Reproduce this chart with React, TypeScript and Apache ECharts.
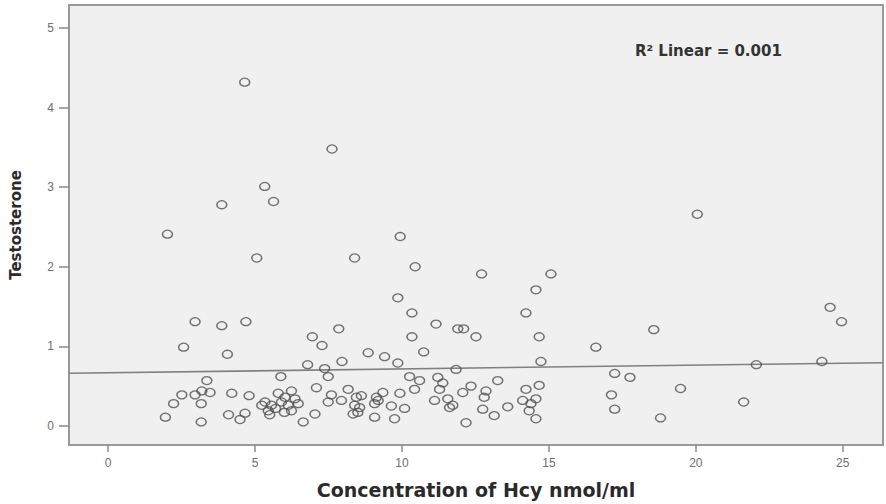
import React, { useEffect, useRef } from "react";
import * as echarts from "echarts";

// Scatter points: [Hcy concentration (nmol/ml), Testosterone]
const points: number[][] = [
  [2.02, 2.41], [3.87, 2.78], [4.65, 4.32], [5.33, 3.01], [5.63, 2.82], [5.06, 2.11],
  [7.62, 3.48], [9.94, 2.38], [8.39, 2.11], [10.45, 2.0], [12.71, 1.91], [15.07, 1.91],
  [14.56, 1.71], [9.86, 1.61], [10.34, 1.42], [14.22, 1.42], [11.16, 1.28], [11.9, 1.22],
  [12.1, 1.22], [7.85, 1.22], [6.95, 1.12], [7.28, 1.01], [10.34, 1.12], [12.52, 1.12],
  [14.67, 1.12], [10.74, 0.93], [8.85, 0.92], [9.41, 0.87], [2.96, 1.31], [3.87, 1.26],
  [4.69, 1.31], [2.57, 0.99], [4.06, 0.9], [16.6, 0.99], [18.57, 1.21], [20.05, 2.66],
  [24.57, 1.49], [24.96, 1.31],
  [9.86, 0.79], [7.96, 0.81], [6.79, 0.77], [7.37, 0.72], [14.73, 0.81], [11.84, 0.71],
  [3.36, 0.57], [5.88, 0.62], [2.51, 0.39], [2.96, 0.39], [3.19, 0.44], [3.47, 0.42],
  [2.23, 0.28], [3.17, 0.28], [4.21, 0.41], [4.8, 0.38], [1.95, 0.11], [3.17, 0.05],
  [4.1, 0.14], [4.49, 0.08], [4.66, 0.16],
  [5.23, 0.26], [5.34, 0.3], [5.45, 0.19], [5.56, 0.26], [5.5, 0.14], [5.79, 0.41],
  [5.9, 0.3], [6.02, 0.36], [6.13, 0.26], [6.24, 0.19], [6.24, 0.44], [6.36, 0.34],
  [6.47, 0.28], [5.7, 0.22], [6.0, 0.17],
  [6.64, 0.05], [7.04, 0.15], [7.49, 0.62], [7.09, 0.48], [7.6, 0.39], [7.49, 0.3],
  [7.94, 0.32], [8.17, 0.46], [8.45, 0.36], [8.34, 0.15],
  [8.62, 0.38], [8.5, 0.17], [8.56, 0.23], [8.39, 0.26], [9.07, 0.11], [9.13, 0.36],
  [9.07, 0.28], [9.35, 0.42], [9.19, 0.32], [9.64, 0.25], [9.75, 0.09], [9.93, 0.41],
  [10.09, 0.22], [10.26, 0.62], [10.6, 0.57], [10.43, 0.46],
  [11.22, 0.61], [11.28, 0.46], [11.11, 0.32], [11.56, 0.34], [11.62, 0.23], [11.39, 0.54],
  [11.73, 0.26],
  [13.26, 0.57], [12.35, 0.5], [12.07, 0.42], [12.86, 0.44], [12.8, 0.36], [12.75, 0.21],
  [13.14, 0.13], [13.6, 0.24], [12.18, 0.04],
  [14.22, 0.46], [14.67, 0.51], [14.11, 0.32], [14.39, 0.28], [14.56, 0.34], [14.33, 0.19],
  [14.56, 0.09],
  [17.24, 0.66], [17.76, 0.61], [17.13, 0.39], [17.24, 0.21], [18.8, 0.1], [19.48, 0.47],
  [21.63, 0.3], [22.06, 0.77], [24.29, 0.81],
];

// Linear fit: Testosterone = intercept + slope * Hcy
const fitIntercept = 0.668;
const fitSlope = 0.0048;
const fitLabel = "R² Linear = 0.001";

const xRange = [-1.33, 26.37];
const yRange = [-0.24, 5.29];
const xTicks = [0, 5, 10, 15, 20, 25];
const yTicks = [0, 1, 2, 3, 4, 5];

const xTitle = "Concentration of Hcy nmol/ml";
const yTitle = "Testosterone";

export default function App() {
  const ref = useRef<HTMLDivElement>(null);

  useEffect(() => {
    document.body.style.margin = "0";
    if (!ref.current) return;
    const chart = echarts.init(ref.current, undefined, { renderer: "svg" });
    const fitLine = xRange.map((x) => [x, fitIntercept + fitSlope * x]);
    const labelStyle = {
      color: "#6e6e6e",
      fontFamily: "Liberation Sans, Arial, sans-serif",
      fontSize: 12,
    };
    chart.setOption({
      animation: false,
      backgroundColor: "#ffffff",
      grid: {
        left: 67,
        top: 5,
        right: 3,
        bottom: 54,
        show: true,
        backgroundColor: "#f0f0f0",
        borderColor: "#9a9a9a",
        borderWidth: 2,
      },
      xAxis: {
        type: "value",
        min: xRange[0],
        max: xRange[1],
        splitLine: { show: false },
        axisLine: { show: true, onZero: false, lineStyle: { color: "#9a9a9a", width: 2 } },
        axisTick: {
          show: true,
          length: 7,
          customValues: xTicks,
          lineStyle: { color: "#8a8a8a", width: 1.5 },
        },
        axisLabel: { ...labelStyle, customValues: xTicks, margin: 12 },
        name: xTitle,
        nameLocation: "middle",
        nameGap: 35,
        nameTextStyle: {
          color: "#2a2a2a",
          fontFamily: "DejaVu Sans, sans-serif",
          fontWeight: "bold",
          fontSize: 19,
        },
      },
      yAxis: {
        type: "value",
        min: yRange[0],
        max: yRange[1],
        splitLine: { show: false },
        axisLine: { show: true, onZero: false, lineStyle: { color: "#9a9a9a", width: 2 } },
        axisTick: {
          show: true,
          length: 10,
          customValues: yTicks,
          lineStyle: { color: "#8a8a8a", width: 1.5 },
        },
        axisLabel: { ...labelStyle, customValues: yTicks, margin: 15 },
        name: yTitle,
        nameLocation: "middle",
        nameGap: 46,
        nameRotate: 90,
        nameTextStyle: {
          color: "#2a2a2a",
          fontFamily: "DejaVu Sans, sans-serif",
          fontWeight: "bold",
          fontSize: 15,
        },
      },
      series: [
        {
          type: "line",
          data: fitLine,
          symbol: "none",
          silent: true,
          lineStyle: { color: "#808080", width: 1.6 },
          z: 1,
        },
        {
          type: "scatter",
          data: points,
          symbol: "circle",
          symbolSize: [10, 8],
          itemStyle: {
            color: "rgba(0,0,0,0)",
            borderColor: "#505050",
            borderWidth: 1.4,
          },
          z: 2,
        },
      ],
      graphic: [
        {
          type: "text",
          left: 635,
          top: 43,
          style: {
            text: fitLabel,
            fill: "#333333",
            font: "bold 15px DejaVu Sans, sans-serif",
          },
        },
      ],
    });
    return () => chart.dispose();
  }, []);

  return <div ref={ref} style={{ width: 886, height: 504 }} />;
}
